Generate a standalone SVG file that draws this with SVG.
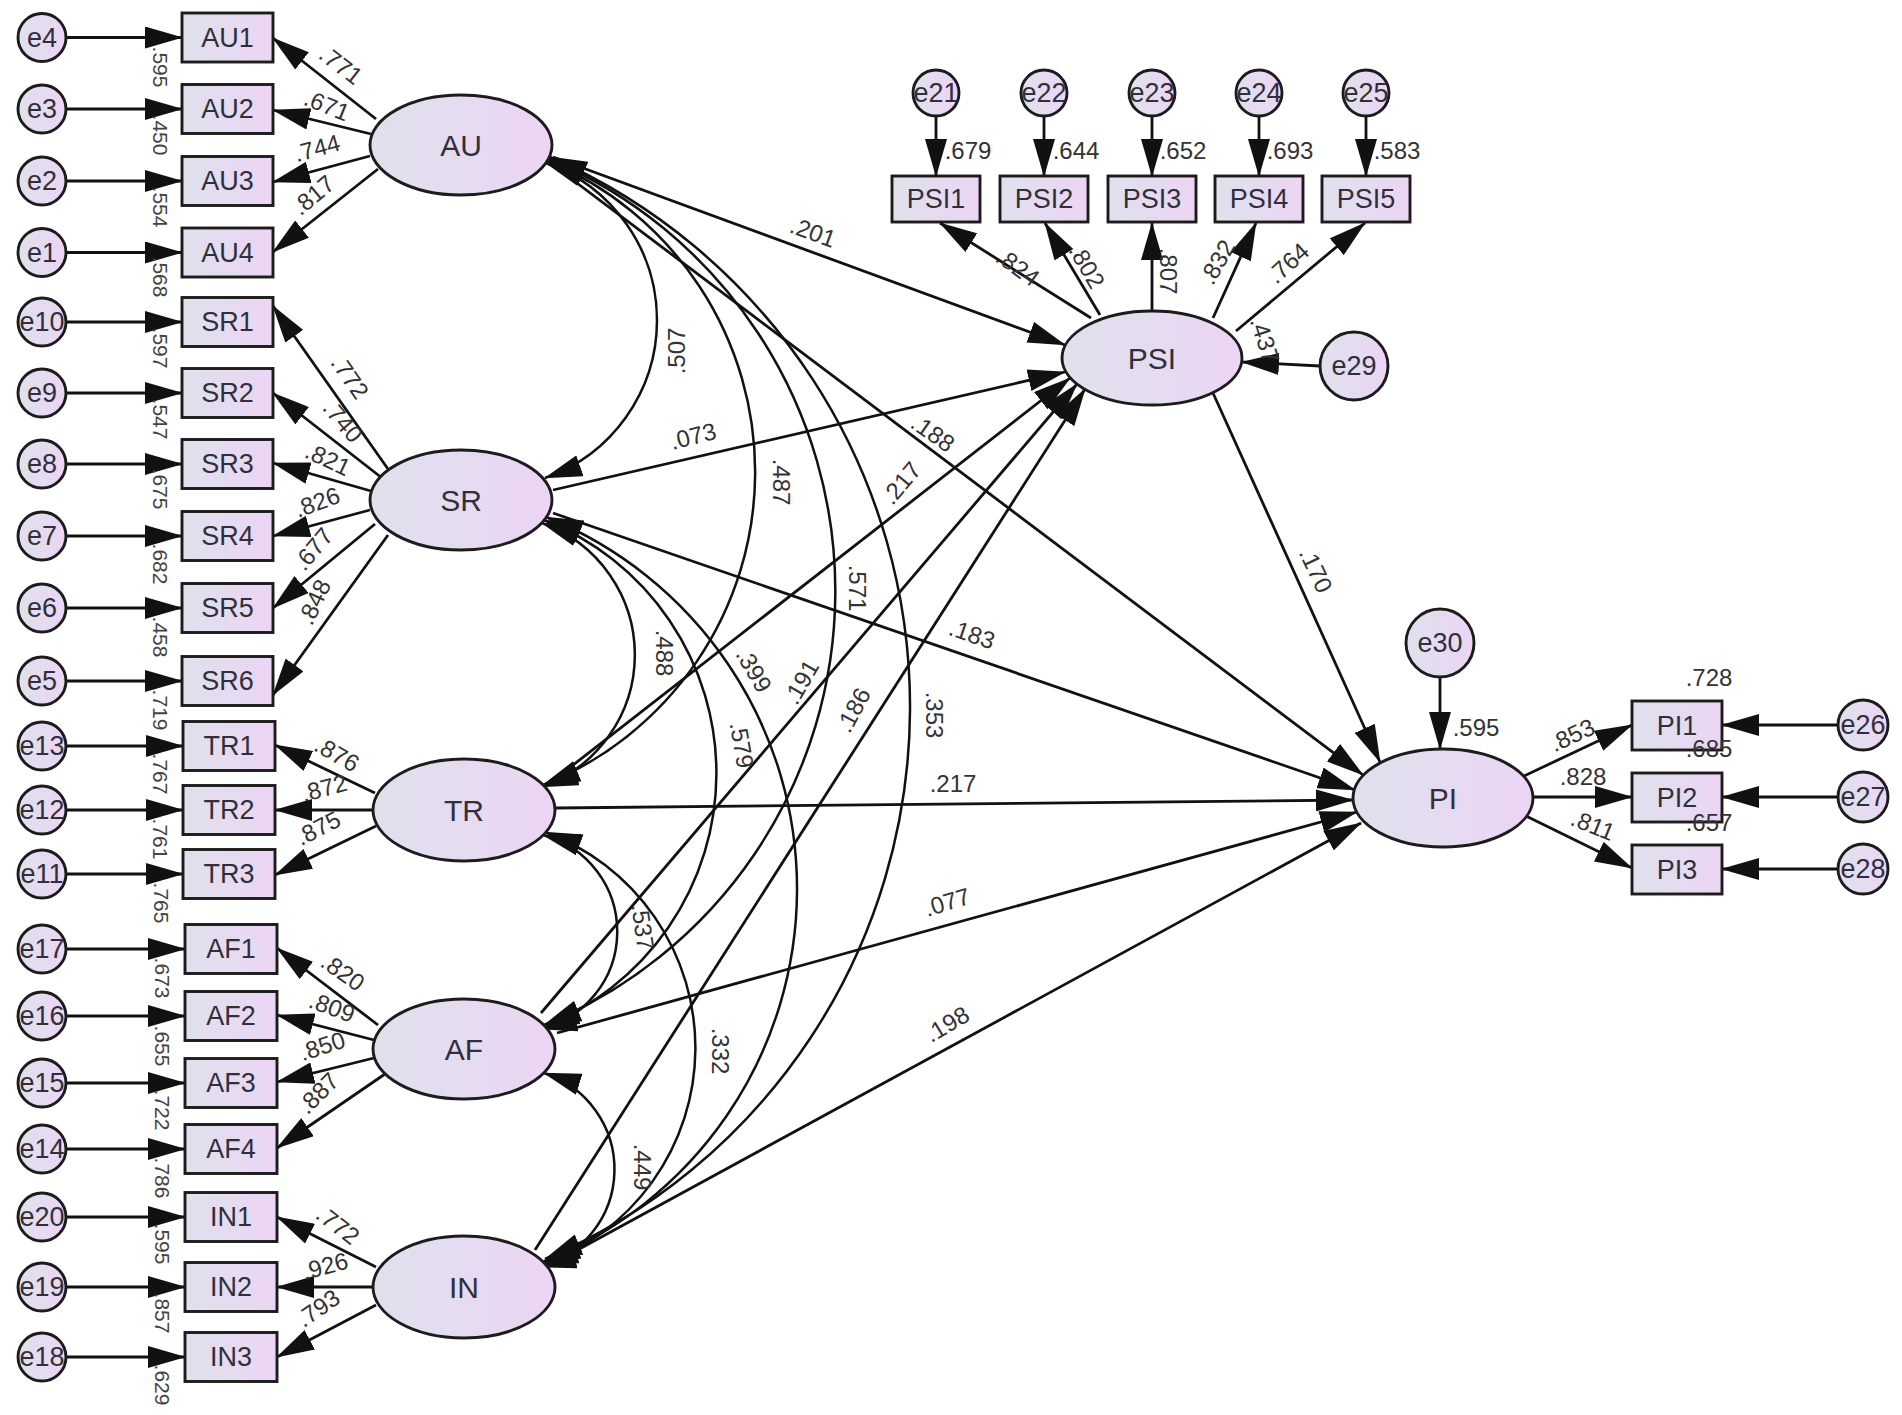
<svg xmlns="http://www.w3.org/2000/svg" width="1902" height="1415" viewBox="0 0 1902 1415">
<defs>
<linearGradient id="fill" x1="0" y1="0" x2="1" y2="0">
<stop offset="0" stop-color="#dfe1ec"/>
<stop offset="1" stop-color="#ecd5f4"/>
</linearGradient>
<marker id="ah" markerUnits="userSpaceOnUse" viewBox="0 0 38 22" markerWidth="38" markerHeight="22" refX="37" refY="11" orient="auto-start-reverse">
<path d="M0,0 L38,11 L0,22 Z" fill="#111"/>
</marker>
</defs>
<style>
.nd{fill:url(#fill);stroke:#1c1c1c;stroke-width:2.9}
.ln{fill:none;stroke:#111;stroke-width:2.8;marker-end:url(#ah)}
.cv{fill:none;stroke:#111;stroke-width:2.5;marker-start:url(#ah);marker-end:url(#ah)}
text{font-family:"Liberation Sans",Arial,sans-serif;text-anchor:middle;dominant-baseline:central}
.t{font-size:27px;fill:#30303c}
.tl{font-size:30px;fill:#30303c}
.v{font-size:24px;fill:#333}
.r{font-size:21px;fill:#444}
</style>
<rect width="1902" height="1415" fill="#ffffff"/>

<g id="connectors">
<line class="ln" x1="66" y1="37.5" x2="182" y2="37.5"/>
<line class="ln" x1="66" y1="109" x2="182" y2="109"/>
<line class="ln" x1="66" y1="181" x2="182" y2="181"/>
<line class="ln" x1="66" y1="252.5" x2="182" y2="252.5"/>
<line class="ln" x1="66" y1="322" x2="182" y2="322"/>
<line class="ln" x1="66" y1="393" x2="182" y2="393"/>
<line class="ln" x1="66" y1="464" x2="182" y2="464"/>
<line class="ln" x1="66" y1="536" x2="182" y2="536"/>
<line class="ln" x1="66" y1="608" x2="182" y2="608"/>
<line class="ln" x1="66" y1="681" x2="182" y2="681"/>
<line class="ln" x1="66" y1="746" x2="183" y2="746"/>
<line class="ln" x1="66" y1="810" x2="183" y2="810"/>
<line class="ln" x1="66" y1="874" x2="183" y2="874"/>
<line class="ln" x1="66" y1="949" x2="185" y2="949"/>
<line class="ln" x1="66" y1="1016" x2="185" y2="1016"/>
<line class="ln" x1="66" y1="1083" x2="185" y2="1083"/>
<line class="ln" x1="66" y1="1149" x2="185" y2="1149"/>
<line class="ln" x1="66" y1="1217" x2="185" y2="1217"/>
<line class="ln" x1="66" y1="1287" x2="185" y2="1287"/>
<line class="ln" x1="66" y1="1357" x2="185" y2="1357"/>
<line class="ln" x1="376" y1="119" x2="273" y2="38"/>
<line class="ln" x1="371" y1="134" x2="273" y2="110"/>
<line class="ln" x1="370" y1="156" x2="273" y2="182"/>
<line class="ln" x1="378" y1="169" x2="273" y2="252"/>
<line class="ln" x1="388" y1="469" x2="273" y2="306"/>
<line class="ln" x1="382" y1="478" x2="273" y2="393"/>
<line class="ln" x1="371" y1="491" x2="273" y2="463"/>
<line class="ln" x1="370" y1="510" x2="273" y2="536"/>
<line class="ln" x1="375" y1="524" x2="273" y2="608"/>
<line class="ln" x1="388" y1="535" x2="273" y2="695"/>
<line class="ln" x1="375" y1="793" x2="275" y2="745"/>
<line class="ln" x1="373" y1="810" x2="275" y2="810"/>
<line class="ln" x1="376" y1="826" x2="275" y2="875"/>
<line class="ln" x1="378" y1="1025" x2="277" y2="948"/>
<line class="ln" x1="374" y1="1040" x2="277" y2="1015"/>
<line class="ln" x1="374" y1="1058" x2="277" y2="1082"/>
<line class="ln" x1="385" y1="1074" x2="277" y2="1148"/>
<line class="ln" x1="376" y1="1267" x2="277" y2="1217"/>
<line class="ln" x1="373" y1="1287" x2="277" y2="1287"/>
<line class="ln" x1="376" y1="1305" x2="277" y2="1357"/>
<line class="ln" x1="936" y1="116" x2="936" y2="176"/>
<line class="ln" x1="1044" y1="116" x2="1044" y2="176"/>
<line class="ln" x1="1152" y1="116" x2="1152" y2="176"/>
<line class="ln" x1="1259" y1="116" x2="1259" y2="176"/>
<line class="ln" x1="1366" y1="116" x2="1366" y2="176"/>
<line class="ln" x1="1091" y1="318" x2="940" y2="223"/>
<line class="ln" x1="1100" y1="315" x2="1045" y2="223"/>
<line class="ln" x1="1152" y1="311" x2="1152" y2="223"/>
<line class="ln" x1="1213" y1="318" x2="1256" y2="223"/>
<line class="ln" x1="1236" y1="331" x2="1365" y2="223"/>
<line class="ln" x1="1320" y1="366" x2="1242" y2="362"/>
<line class="ln" x1="1440" y1="677" x2="1440" y2="749"/>
<line class="ln" x1="1524" y1="776" x2="1632" y2="725"/>
<line class="ln" x1="1533" y1="797" x2="1632" y2="797"/>
<line class="ln" x1="1526" y1="816" x2="1632" y2="868"/>
<line class="ln" x1="1838" y1="725" x2="1722" y2="725"/>
<line class="ln" x1="1838" y1="797" x2="1722" y2="797"/>
<line class="ln" x1="1838" y1="869" x2="1722" y2="869"/>
<line class="ln" x1="553" y1="157" x2="1065" y2="345"/>
<line class="ln" x1="553" y1="490" x2="1065" y2="372"/>
<line class="ln" x1="550" y1="783" x2="1070" y2="378"/>
<line class="ln" x1="541" y1="1013" x2="1077" y2="384"/>
<line class="ln" x1="535" y1="1250" x2="1085" y2="389"/>
<line class="ln" x1="553" y1="165" x2="1363" y2="775"/>
<line class="ln" x1="553" y1="513" x2="1355" y2="790"/>
<line class="ln" x1="556" y1="808" x2="1353" y2="800"/>
<line class="ln" x1="557" y1="1033" x2="1357" y2="812"/>
<line class="ln" x1="550" y1="1265" x2="1361" y2="823"/>
<line class="ln" x1="1213" y1="393" x2="1380" y2="762"/>
<path class="cv" d="M546,163 A167,167 0 0 1 545,478"/>
<path class="cv" d="M548,161 A337,337 0 0 1 543,785"/>
<path class="cv" d="M549,159 A469,469 0 0 1 544,1025"/>
<path class="cv" d="M550,157 A600,600 0 0 1 545,1259"/>
<path class="cv" d="M542,523 A140,140 0 0 1 541,787"/>
<path class="cv" d="M544,520 A272,272 0 0 1 542,1027"/>
<path class="cv" d="M546,517 A401,401 0 0 1 543,1262"/>
<path class="cv" d="M543,835 A100,100 0 0 1 540,1029"/>
<path class="cv" d="M545,832 A230,230 0 0 1 541,1265"/>
<path class="cv" d="M544,1073 A101,101 0 0 1 539,1267"/>
</g>

<g id="e4"><circle class="nd" cx="42" cy="37.5" r="24"/><text class="t" x="42" y="37.5">e4</text></g>
<g id="e3"><circle class="nd" cx="42" cy="109" r="24"/><text class="t" x="42" y="109">e3</text></g>
<g id="e2"><circle class="nd" cx="42" cy="181" r="24"/><text class="t" x="42" y="181">e2</text></g>
<g id="e1"><circle class="nd" cx="42" cy="252.5" r="24"/><text class="t" x="42" y="252.5">e1</text></g>
<g id="e10"><circle class="nd" cx="42" cy="322" r="24"/><text class="t" x="42" y="322">e10</text></g>
<g id="e9"><circle class="nd" cx="42" cy="393" r="24"/><text class="t" x="42" y="393">e9</text></g>
<g id="e8"><circle class="nd" cx="42" cy="464" r="24"/><text class="t" x="42" y="464">e8</text></g>
<g id="e7"><circle class="nd" cx="42" cy="536" r="24"/><text class="t" x="42" y="536">e7</text></g>
<g id="e6"><circle class="nd" cx="42" cy="608" r="24"/><text class="t" x="42" y="608">e6</text></g>
<g id="e5"><circle class="nd" cx="42" cy="681" r="24"/><text class="t" x="42" y="681">e5</text></g>
<g id="e13"><circle class="nd" cx="42" cy="746" r="24"/><text class="t" x="42" y="746">e13</text></g>
<g id="e12"><circle class="nd" cx="42" cy="810" r="24"/><text class="t" x="42" y="810">e12</text></g>
<g id="e11"><circle class="nd" cx="42" cy="874" r="24"/><text class="t" x="42" y="874">e11</text></g>
<g id="e17"><circle class="nd" cx="42" cy="949" r="24"/><text class="t" x="42" y="949">e17</text></g>
<g id="e16"><circle class="nd" cx="42" cy="1016" r="24"/><text class="t" x="42" y="1016">e16</text></g>
<g id="e15"><circle class="nd" cx="42" cy="1083" r="24"/><text class="t" x="42" y="1083">e15</text></g>
<g id="e14"><circle class="nd" cx="42" cy="1149" r="24"/><text class="t" x="42" y="1149">e14</text></g>
<g id="e20"><circle class="nd" cx="42" cy="1217" r="24"/><text class="t" x="42" y="1217">e20</text></g>
<g id="e19"><circle class="nd" cx="42" cy="1287" r="24"/><text class="t" x="42" y="1287">e19</text></g>
<g id="e18"><circle class="nd" cx="42" cy="1357" r="24"/><text class="t" x="42" y="1357">e18</text></g>

<g id="AU1"><rect class="nd" x="182" y="13" width="91" height="49"/><text class="t" x="227.5" y="37.5">AU1</text></g>
<g id="AU2"><rect class="nd" x="182" y="84.5" width="91" height="49"/><text class="t" x="227.5" y="109">AU2</text></g>
<g id="AU3"><rect class="nd" x="182" y="156.5" width="91" height="49"/><text class="t" x="227.5" y="181">AU3</text></g>
<g id="AU4"><rect class="nd" x="182" y="228" width="91" height="49"/><text class="t" x="227.5" y="252.5">AU4</text></g>
<g id="SR1"><rect class="nd" x="182" y="297.5" width="91" height="49"/><text class="t" x="227.5" y="322">SR1</text></g>
<g id="SR2"><rect class="nd" x="182" y="368.5" width="91" height="49"/><text class="t" x="227.5" y="393">SR2</text></g>
<g id="SR3"><rect class="nd" x="182" y="439.5" width="91" height="49"/><text class="t" x="227.5" y="464">SR3</text></g>
<g id="SR4"><rect class="nd" x="182" y="511.5" width="91" height="49"/><text class="t" x="227.5" y="536">SR4</text></g>
<g id="SR5"><rect class="nd" x="182" y="583.5" width="91" height="49"/><text class="t" x="227.5" y="608">SR5</text></g>
<g id="SR6"><rect class="nd" x="182" y="656.5" width="91" height="49"/><text class="t" x="227.5" y="681">SR6</text></g>
<g id="TR1"><rect class="nd" x="183" y="721.5" width="92" height="49"/><text class="t" x="229" y="746">TR1</text></g>
<g id="TR2"><rect class="nd" x="183" y="785.5" width="92" height="49"/><text class="t" x="229" y="810">TR2</text></g>
<g id="TR3"><rect class="nd" x="183" y="849.5" width="92" height="49"/><text class="t" x="229" y="874">TR3</text></g>
<g id="AF1"><rect class="nd" x="185" y="924.5" width="92" height="49"/><text class="t" x="231" y="949">AF1</text></g>
<g id="AF2"><rect class="nd" x="185" y="991.5" width="92" height="49"/><text class="t" x="231" y="1016">AF2</text></g>
<g id="AF3"><rect class="nd" x="185" y="1058.5" width="92" height="49"/><text class="t" x="231" y="1083">AF3</text></g>
<g id="AF4"><rect class="nd" x="185" y="1124.5" width="92" height="49"/><text class="t" x="231" y="1149">AF4</text></g>
<g id="IN1"><rect class="nd" x="185" y="1192.5" width="92" height="49"/><text class="t" x="231" y="1217">IN1</text></g>
<g id="IN2"><rect class="nd" x="185" y="1262.5" width="92" height="49"/><text class="t" x="231" y="1287">IN2</text></g>
<g id="IN3"><rect class="nd" x="185" y="1332.5" width="92" height="49"/><text class="t" x="231" y="1357">IN3</text></g>

<g id="AU"><ellipse class="nd" cx="461" cy="145" rx="91" ry="50"/><text class="tl" x="461" y="145">AU</text></g>
<g id="SR"><ellipse class="nd" cx="461" cy="500" rx="91" ry="50"/><text class="tl" x="461" y="500">SR</text></g>
<g id="TR"><ellipse class="nd" cx="464" cy="810" rx="91" ry="51"/><text class="tl" x="464" y="810">TR</text></g>
<g id="AF"><ellipse class="nd" cx="464" cy="1049" rx="91" ry="50"/><text class="tl" x="464" y="1049">AF</text></g>
<g id="IN"><ellipse class="nd" cx="464" cy="1287" rx="91" ry="51"/><text class="tl" x="464" y="1287">IN</text></g>

<g id="e21"><circle class="nd" cx="936" cy="93" r="23"/><text class="t" x="936" y="93">e21</text></g>
<g id="e22"><circle class="nd" cx="1044" cy="93" r="23"/><text class="t" x="1044" y="93">e22</text></g>
<g id="e23"><circle class="nd" cx="1152" cy="93" r="23"/><text class="t" x="1152" y="93">e23</text></g>
<g id="e24"><circle class="nd" cx="1259" cy="93" r="23"/><text class="t" x="1259" y="93">e24</text></g>
<g id="e25"><circle class="nd" cx="1366" cy="93" r="23"/><text class="t" x="1366" y="93">e25</text></g>
<g id="PSI1"><rect class="nd" x="892" y="176" width="88" height="46"/><text class="t" x="936" y="199">PSI1</text></g>
<g id="PSI2"><rect class="nd" x="1000" y="176" width="88" height="46"/><text class="t" x="1044" y="199">PSI2</text></g>
<g id="PSI3"><rect class="nd" x="1108" y="176" width="88" height="46"/><text class="t" x="1152" y="199">PSI3</text></g>
<g id="PSI4"><rect class="nd" x="1215" y="176" width="88" height="46"/><text class="t" x="1259" y="199">PSI4</text></g>
<g id="PSI5"><rect class="nd" x="1322" y="176" width="88" height="46"/><text class="t" x="1366" y="199">PSI5</text></g>
<g id="PSI"><ellipse class="nd" cx="1152" cy="358" rx="90" ry="47"/><text class="tl" x="1152" y="358">PSI</text></g>
<g id="e29"><circle class="nd" cx="1354" cy="366" r="34"/><text class="t" x="1354" y="366">e29</text></g>

<g id="e30"><circle class="nd" cx="1440" cy="643" r="34"/><text class="t" x="1440" y="643">e30</text></g>
<g id="PI"><ellipse class="nd" cx="1443" cy="798" rx="90" ry="49"/><text class="tl" x="1443" y="798">PI</text></g>
<g id="PI1"><rect class="nd" x="1632" y="701" width="90" height="49"/><text class="t" x="1677" y="725.5">PI1</text></g>
<g id="PI2"><rect class="nd" x="1632" y="773" width="90" height="49"/><text class="t" x="1677" y="797.5">PI2</text></g>
<g id="PI3"><rect class="nd" x="1632" y="845" width="90" height="49"/><text class="t" x="1677" y="869.5">PI3</text></g>
<g id="e26"><circle class="nd" cx="1863" cy="725" r="25"/><text class="t" x="1863" y="725">e26</text></g>
<g id="e27"><circle class="nd" cx="1863" cy="797" r="25"/><text class="t" x="1863" y="797">e27</text></g>
<g id="e28"><circle class="nd" cx="1863" cy="869" r="25"/><text class="t" x="1863" y="869">e28</text></g>

<g id="labels">
<text class="r" transform="translate(160 67) rotate(90)">.595</text>
<text class="r" transform="translate(160 135) rotate(90)">.450</text>
<text class="r" transform="translate(160 207) rotate(90)">.554</text>
<text class="r" transform="translate(160 277) rotate(90)">.568</text>
<text class="r" transform="translate(160 348) rotate(90)">.597</text>
<text class="r" transform="translate(160 419) rotate(90)">.547</text>
<text class="r" transform="translate(160 489) rotate(90)">.675</text>
<text class="r" transform="translate(160 564) rotate(90)">.682</text>
<text class="r" transform="translate(160 637) rotate(90)">.458</text>
<text class="r" transform="translate(160 710) rotate(90)">.719</text>
<text class="r" transform="translate(160 774) rotate(90)">.767</text>
<text class="r" transform="translate(160 839) rotate(90)">.761</text>
<text class="r" transform="translate(161 903) rotate(90)">.765</text>
<text class="r" transform="translate(162 978) rotate(90)">.673</text>
<text class="r" transform="translate(162 1046) rotate(90)">.655</text>
<text class="r" transform="translate(162 1110) rotate(90)">.722</text>
<text class="r" transform="translate(162 1178) rotate(90)">.786</text>
<text class="r" transform="translate(162 1244) rotate(90)">.595</text>
<text class="r" transform="translate(162 1313) rotate(90)">.857</text>
<text class="r" transform="translate(162 1385) rotate(90)">.629</text>

<text class="v" transform="translate(341 65) rotate(38)">.771</text>
<text class="v" transform="translate(327 105) rotate(22)">.671</text>
<text class="v" transform="translate(317 148) rotate(-15)">.744</text>
<text class="v" transform="translate(313 195) rotate(-40)">.817</text>
<text class="v" transform="translate(350 377) rotate(55)">.772</text>
<text class="v" transform="translate(343 421) rotate(50)">.740</text>
<text class="v" transform="translate(328 459) rotate(25)">.821</text>
<text class="v" transform="translate(317 502) rotate(-20)">.826</text>
<text class="v" transform="translate(313 549) rotate(-50)">.677</text>
<text class="v" transform="translate(314 602) rotate(-65)">.848</text>
<text class="v" transform="translate(337 754) rotate(30)">.876</text>
<text class="v" transform="translate(324 788) rotate(-15)">.872</text>
<text class="v" transform="translate(318 828) rotate(-27)">.875</text>
<text class="v" transform="translate(343 972) rotate(35)">.820</text>
<text class="v" transform="translate(332 1007) rotate(20)">.809</text>
<text class="v" transform="translate(322 1046) rotate(-18)">.850</text>
<text class="v" transform="translate(318 1093) rotate(-45)">.887</text>
<text class="v" transform="translate(338 1225) rotate(38)">.772</text>
<text class="v" transform="translate(325 1266) rotate(-15)">.926</text>
<text class="v" transform="translate(318 1308) rotate(-35)">.793</text>

<text class="v" x="968" y="150">.679</text>
<text class="v" x="1076" y="150">.644</text>
<text class="v" x="1183" y="150">.652</text>
<text class="v" x="1290" y="150">.693</text>
<text class="v" x="1397" y="150">.583</text>
<text class="v" transform="translate(1018 267) rotate(36)">.824</text>
<text class="v" transform="translate(1087 266) rotate(60)">.802</text>
<text class="v" transform="translate(1168 271) rotate(90)">.807</text>
<text class="v" transform="translate(1217 262) rotate(-60)">.832</text>
<text class="v" transform="translate(1288 263) rotate(-42)">.764</text>
<text class="v" transform="translate(1265 340) rotate(72)">.437</text>

<text class="v" transform="translate(813 232) rotate(20)">.201</text>
<text class="v" transform="translate(693 436) rotate(-14)">.073</text>
<text class="v" transform="translate(933 433) rotate(35)">.188</text>
<text class="v" transform="translate(901 483) rotate(-50)">.217</text>
<text class="v" transform="translate(801 682) rotate(-60)">.191</text>
<text class="v" transform="translate(853 710) rotate(-62)">.186</text>
<text class="v" transform="translate(972 634) rotate(19)">.183</text>
<text class="v" x="953" y="783">.217</text>
<text class="v" transform="translate(947 902) rotate(-17)">.077</text>
<text class="v" transform="translate(947 1024) rotate(-31)">.198</text>
<text class="v" transform="translate(1316 570) rotate(65)">.170</text>

<text class="v" transform="translate(676 351) rotate(-90)">.507</text>
<text class="v" transform="translate(781 482) rotate(90)">.487</text>
<text class="v" transform="translate(857 588) rotate(90)">.571</text>
<text class="v" transform="translate(934 715) rotate(90)">.353</text>
<text class="v" transform="translate(664 653) rotate(90)">.488</text>
<text class="v" transform="translate(742 745) rotate(80)">.579</text>
<text class="v" transform="translate(754 670) rotate(60)">.399</text>
<text class="v" transform="translate(643 927) rotate(82)">.537</text>
<text class="v" transform="translate(720 1051) rotate(90)">.332</text>
<text class="v" transform="translate(642 1167) rotate(90)">.449</text>

<text class="v" x="1476" y="727">.595</text>
<text class="v" x="1709" y="677">.728</text>
<text class="v" x="1709" y="748">.685</text>
<text class="v" x="1709" y="822">.657</text>
<text class="v" transform="translate(1572 735) rotate(-25)">.853</text>
<text class="v" x="1583" y="776">.828</text>
<text class="v" transform="translate(1593 825) rotate(22)">.811</text>
</g>
</svg>
